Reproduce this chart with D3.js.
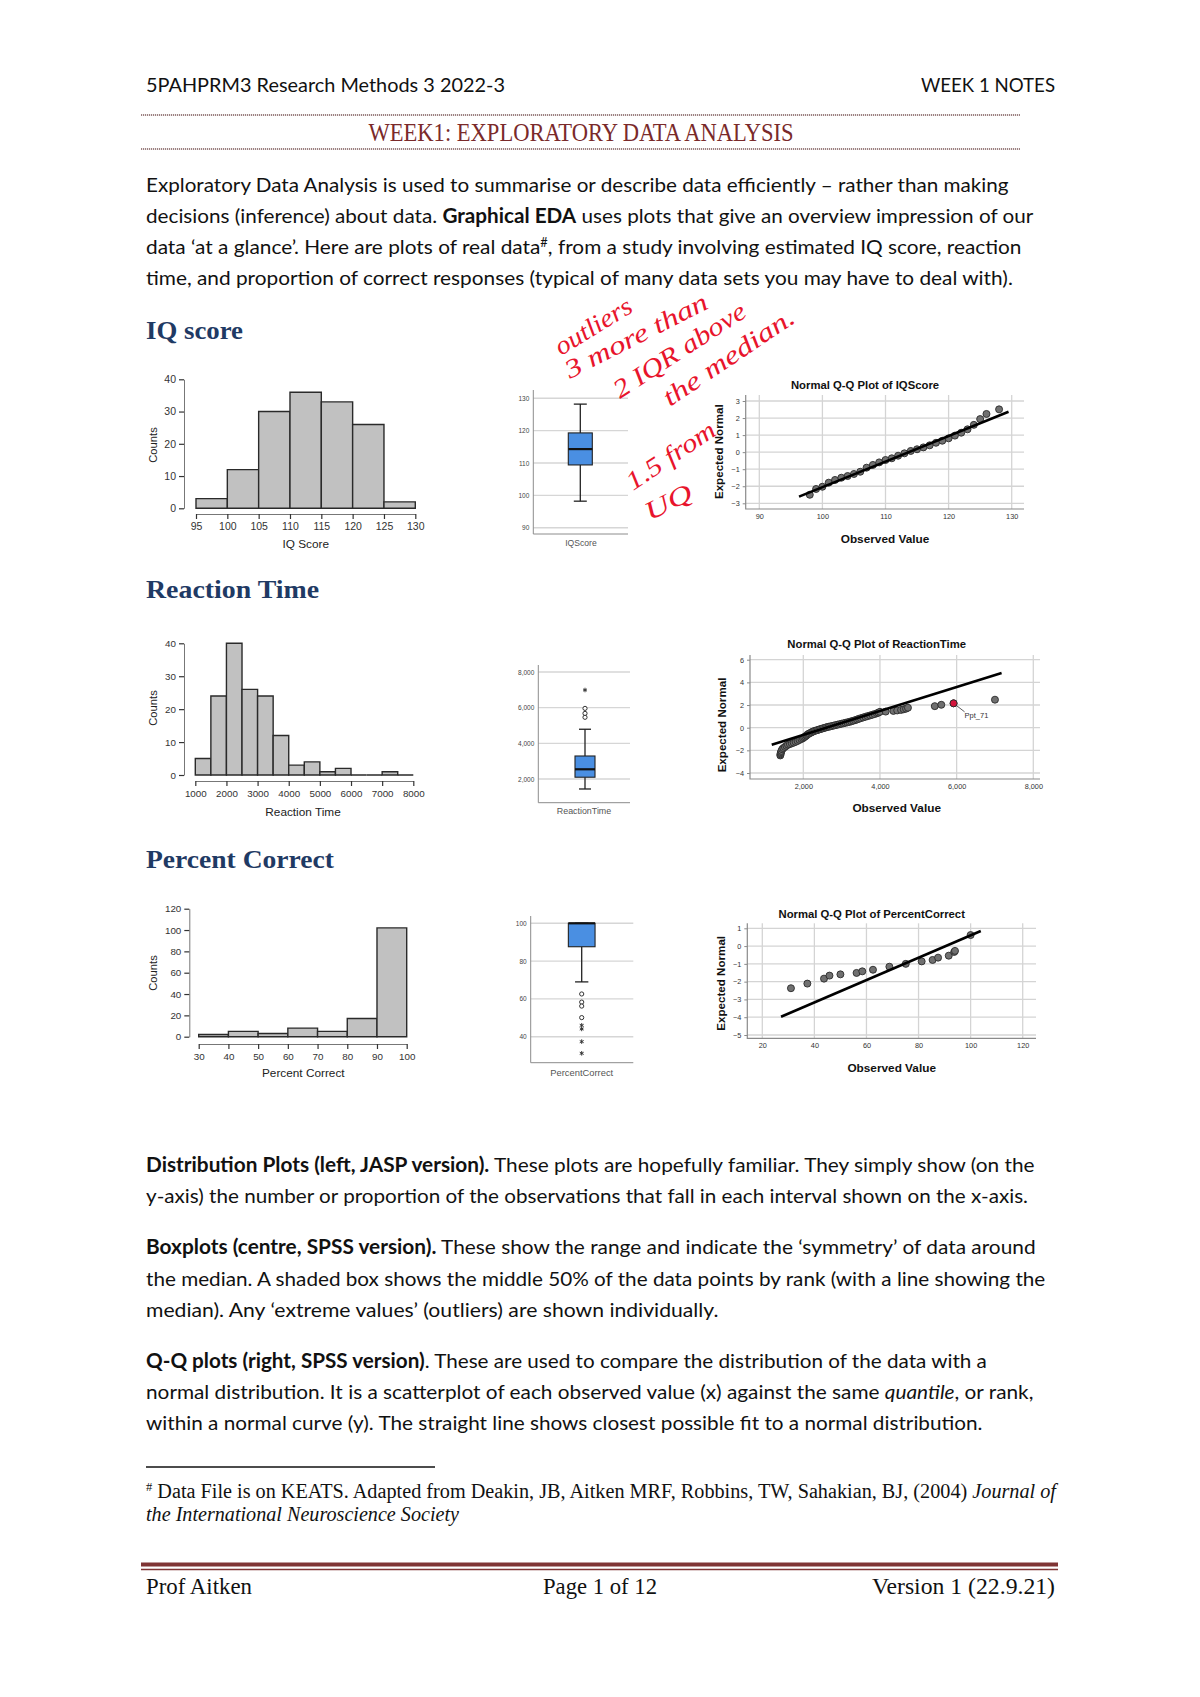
<!DOCTYPE html>
<html><head><meta charset="utf-8">
<script src="https://cdn.jsdelivr.net/npm/d3@7"></script>
<style>
html,body{margin:0;padding:0;background:#fff;}
svg{display:block;}
text{white-space:pre;}
</style></head>
<body>
<svg id="page" width="1200" height="1697"></svg>
<script>
// ---------------- DATA ----------------
// Histograms (JASP)
const iqEdges = [95,100,105,110,115,120,125,130];
const iqCounts = [3,12,30,36,33,26,2];
const iqHistTicks = [95,100,105,110,115,120,125,130];
const iqCountTicks = [0,10,20,30,40];

const rtEdges = [1000,1500,2000,2500,3000,3500,4000,4500,5000,5500,6000,6500,7000,7500,8000];
const rtCounts = [5,24,40,26,24,12,3,4,1,2,0,0,1,0];
const rtHistTicks = [1000,2000,3000,4000,5000,6000,7000,8000];
const rtCountTicks = [0,10,20,30,40];

const pcEdges = [30,40,50,60,70,80,90,100];
const pcCounts = [2,5,3,8,5,17,102];
const pcHistTicks = [30,40,50,60,70,80,90,100];
const pcCountTicks = [0,20,40,60,80,100,120];

// Boxplots (SPSS): [lower whisker, Q1, median, Q3, upper whisker]
const iqBox = [98.2,109.4,114.3,119.3,128.2];
const iqBoxTicks = [90,100,110,120,130];
const rtBox = [1440,2100,2545,3290,4790];
const rtOutliers = [5460,5680,5960];
const rtExtremes = [6990];
const rtBoxTicks = [2000,4000,6000,8000];
const pcBox = [69,87.6,100,100,100];
const pcOutliers = [62.6,58.3,56.2,50.1];
const pcExtremes = [46.0,44.1,37.4,31.2];
const pcBoxTicks = [40,60,80,100];

// Normal Q-Q plots (SPSS)
const iqQQObs = [98,99,100,101,102,103,104,105,106,107,108,109,110,111,112,113,114,115,116,117,118,119,120,121,122,123,124,125,126,128];
const iqQQExp = [-2.5,-2.16,-2.03,-1.79,-1.63,-1.5,-1.4,-1.28,-1.15,-0.91,-0.75,-0.6,-0.46,-0.36,-0.21,-0.07,0.07,0.17,0.28,0.4,0.55,0.67,0.81,0.97,1.14,1.34,1.6,1.94,2.24,2.51];
const iqQQLineObs = [96.3,129.5];
const iqQQLineExp = [-2.61,2.37];
const iqQQXTicks = [90,100,110,120,130];
const iqQQYTicks = [-3,-2,-1,0,1,2,3];

const rtQQObs = [1400,1405,1410,1420,1430,1450,1480,1520,1560,1600,1650,1700,1750,1800,1850,1900,1950,1990,2020,2050,2080,2100,2130,2160,2200,2230,2260,2300,2340,2380,2420,2460,2500,2540,2580,2620,2660,2700,2750,2800,2850,2900,2950,3000,3050,3100,3150,3200,3250,3300,3350,3400,3450,3500,3560,3620,3680,3740,3800,3860,3920,3960,4000,4150,4350,4450,4550,4620,4680,4730,5430,5600,5920,7000];
const rtQQExp = [-2.45,-2.35,-2.25,-2.15,-2.05,-1.9,-1.8,-1.7,-1.6,-1.5,-1.45,-1.38,-1.32,-1.25,-1.17,-1.08,-1.0,-0.93,-0.85,-0.78,-0.7,-0.63,-0.56,-0.5,-0.44,-0.38,-0.33,-0.28,-0.24,-0.2,-0.15,-0.11,-0.07,-0.03,0.01,0.05,0.08,0.11,0.15,0.19,0.23,0.27,0.31,0.35,0.39,0.43,0.47,0.51,0.56,0.61,0.66,0.72,0.78,0.84,0.9,0.96,1.02,1.08,1.14,1.2,1.27,1.33,1.4,1.42,1.48,1.52,1.57,1.62,1.68,1.76,1.9,2.02,2.15,2.47];
const rtQQLabelObs = [5920];
const rtQQLabelExp = [2.15];
const rtQQLabelText = ["Ppt_71"];
const rtQQLineObs = [1176,7173];
const rtQQLineExp = [-1.5,4.82];
const rtQQXTicks = [2000,4000,6000,8000];
const rtQQYTicks = [-4,-2,0,2,4,6];

const pcQQObs = [31.0,37.3,43.7,45.8,50.0,56.2,58.4,62.5,68.8,75.1,81.2,85.4,87.5,91.6,93.7,94.0,100];
const pcQQExp = [-2.37,-2.11,-1.83,-1.66,-1.59,-1.51,-1.42,-1.33,-1.16,-1.0,-0.86,-0.78,-0.65,-0.54,-0.33,-0.27,0.62];
const pcQQLineObs = [27.2,103.9];
const pcQQLineExp = [-3.97,0.85];
const pcQQXTicks = [20,40,60,80,100,120];
const pcQQYTicks = [-5,-4,-3,-2,-1,0,1];

// Texts
const headerLeft = "5PAHPRM3 Research Methods 3 2022-3";
const headerRight = "WEEK 1 NOTES";
const pageTitle = "WEEK1: EXPLORATORY DATA ANALYSIS";
const sectionTitles = ["IQ score","Reaction Time","Percent Correct"];
const introLines = [
  [["Exploratory Data Analysis is used to summarise or describe data efficiently – rather than making"]],
  [["decisions (inference) about data. "],["Graphical EDA","b"],[" uses plots that give an overview impression of our"]],
  [["data ‘at a glance’. Here are plots of real data"],["#","sup"],[", from a study involving estimated IQ score, reaction"]],
  [["time, and proportion of correct responses (typical of many data sets you may have to deal with)."]]
];
const explainLines = [
  [["Distribution Plots (left, JASP version).","b"],[" These plots are hopefully familiar. They simply show (on the"]],
  [["y-axis) the number or proportion of the observations that fall in each interval shown on the x-axis."]],
  [["Boxplots (centre, SPSS version).","b"],[" These show the range and indicate the ‘symmetry’ of data around"]],
  [["the median. A shaded box shows the middle 50% of the data points by rank (with a line showing the"]],
  [["median). Any ‘extreme values’ (outliers) are shown individually."]],
  [["Q-Q plots (right, SPSS version)","b"],[". These are used to compare the distribution of the data with a"]],
  [["normal distribution. It is a scatterplot of each observed value (x) against the same "],["quantile","i"],[", or rank,"]],
  [["within a normal curve (y). The straight line shows closest possible fit to a normal distribution."]]
];
const footnoteLines = [
  [["#","sup"],[" Data File is on KEATS. Adapted from Deakin, JB, Aitken MRF, Robbins, TW, Sahakian, BJ, (2004) "],["Journal of","i"]],
  [["the International Neuroscience Society","i"]]
];
const footerTexts = ["Prof Aitken","Page 1 of 12","Version 1 (22.9.21)"];
const handNotes = ["outliers","3 more than","2 IQR above","the median.","1.5 from","UQ"];

// ---------------- DRAWING ----------------
const svg = d3.select("#page");
svg.append("rect").attr("width",1200).attr("height",1697).attr("fill","#fff");

const BODY = "Lato, 'Open Sans', sans-serif";
const SERIF = "'Liberation Serif', 'DejaVu Serif', serif";
const SANS = "'Liberation Sans', Arial, sans-serif";

function textLine(g, x, y, segs, o) {
  const t = g.append("text").attr("x", x).attr("y", y)
    .attr("font-family", o.family).attr("font-size", o.size)
    .attr("fill", o.fill || "#000").attr("text-anchor", o.anchor || "start");
  if (o.weight) t.attr("font-weight", o.weight);
  if (o.italic) t.attr("font-style", "italic");
  segs.forEach(s => {
    const ts = t.append("tspan").text(s[0]);
    if (s[1] === "b") ts.attr("font-weight", "bold");
    if (s[1] === "i") ts.attr("font-style", "italic");
    if (s[1] === "sup") ts.attr("baseline-shift", "super").attr("font-size", o.size * 0.62);
  });
  if (o.width) t.attr("textLength", o.width).attr("lengthAdjust", "spacingAndGlyphs");
  return t;
}

// Header
const hdr = svg.append("g");
textLine(hdr, 146, 92, [[headerLeft]], {family: BODY, size: 20, width: 359, fill: "#111"});
textLine(hdr, 1055, 92, [[headerRight]], {family: BODY, size: 20, width: 134, anchor: "end", fill: "#111"});
[115, 149].forEach(yy => hdr.append("line").attr("x1", 141).attr("x2", 1020).attr("y1", yy).attr("y2", yy)
  .attr("stroke", "#7d5a5a").attr("stroke-width", 1.5).attr("stroke-dasharray", "1.2,0.8"));
textLine(hdr, 581, 141, [[pageTitle]], {family: SERIF, size: 25, width: 425, anchor: "middle", fill: "#7a2a2a"});

// Intro paragraph
const introW = [862.5, 887.4, 875.5, 866.8];
introLines.forEach((l, i) => textLine(svg, 146, 191.5 + i * 31.3, l, {family: BODY, size: 20, width: introW[i], fill: "#111"}));

// Section headings
const secY = [339, 598, 868], secW = [97, 173, 188];
sectionTitles.forEach((s, i) => textLine(svg, 146, secY[i], [[s]], {family: SERIF, size: 25, weight: "bold", width: secW[i], fill: "#1f3a64"}));

// Explanations
const explY = [1172, 1203.3, 1254, 1285.5, 1316.5, 1368, 1399, 1430];
const explW = [888.5, 882, 889.6, 899.3, 572.5, 840.9, 887.4, 836.5];
explainLines.forEach((l, i) => textLine(svg, 146, explY[i], l, {family: BODY, size: 20, width: explW[i], fill: "#111"}));

// Footnote
svg.append("line").attr("x1", 146).attr("x2", 435).attr("y1", 1467).attr("y2", 1467).attr("stroke", "#111").attr("stroke-width", 1.5);
textLine(svg, 146, 1498, footnoteLines[0], {family: SERIF, size: 20, width: 910, fill: "#111"});
textLine(svg, 146, 1520.5, footnoteLines[1], {family: SERIF, size: 20, width: 313, fill: "#111"});

// Footer
svg.append("line").attr("x1", 141).attr("x2", 1058).attr("y1", 1564.5).attr("y2", 1564.5).attr("stroke", "#7f3434").attr("stroke-width", 4);
svg.append("line").attr("x1", 141).attr("x2", 1058).attr("y1", 1569.5).attr("y2", 1569.5).attr("stroke", "#7f3434").attr("stroke-width", 1.3);
textLine(svg, 146, 1594, [[footerTexts[0]]], {family: SERIF, size: 23, width: 106, fill: "#111"});
textLine(svg, 600, 1594, [[footerTexts[1]]], {family: SERIF, size: 23, width: 114, anchor: "middle", fill: "#111"});
textLine(svg, 1055, 1594, [[footerTexts[2]]], {family: SERIF, size: 23, width: 183, anchor: "end", fill: "#111"});

// ---------- Histograms ----------
function drawHist(c) {
  const g = svg.append("g");
  const x = d3.scaleLinear().domain(c.xDom).range(c.xRange);
  const y = d3.scaleLinear().domain(c.yDom).range(c.yRange);
  g.selectAll("path.bar").data(c.counts).join("path").attr("class", "bar")
    .attr("d", (d, i) => `M${x(c.edges[i])},${y(0)}V${y(d)}H${x(c.edges[i + 1])}V${y(0)}Z`)
    .attr("fill", "#c1c1c1").attr("stroke", "#2a2a2a").attr("stroke-width", 1.4);
  const ax = g.append("g").attr("transform", `translate(0,${c.axisY})`)
    .call(d3.axisBottom(x).tickValues(c.xTicks).tickSize(5).tickPadding(4).tickSizeOuter(0).tickFormat(d3.format("d")));
  const ay = g.append("g").attr("transform", `translate(${c.axisX},0)`)
    .call(d3.axisLeft(y).tickValues(c.yTicks).tickSize(5).tickPadding(3).tickSizeOuter(0).tickFormat(d3.format("d")));
  [ax, ay].forEach(a => {
    a.select(".domain").attr("stroke", "#777").attr("stroke-width", 1);
    a.selectAll(".tick line").attr("stroke", "#333").attr("stroke-width", 1.2);
    a.selectAll(".tick text").attr("font-family", SANS).attr("font-size", c.tickSize).attr("fill", "#333");
  });
  g.append("text").attr("x", c.xLabelPos[0]).attr("y", c.xLabelPos[1]).attr("text-anchor", "middle")
    .attr("font-family", SANS).attr("font-size", 11.8).attr("fill", "#222").text(c.xLabel);
  g.append("text").attr("transform", `translate(${c.yLabelPos[0]},${c.yLabelPos[1]}) rotate(-90)`).attr("text-anchor", "middle")
    .attr("font-family", SANS).attr("font-size", 11.2).attr("fill", "#222").text("Counts");
}
drawHist({edges: iqEdges, counts: iqCounts, xDom: [95, 130], xRange: [196, 415.3], yDom: [0, 40], yRange: [508.3, 379.3],
  xTicks: iqHistTicks, yTicks: iqCountTicks, axisY: 514, axisX: 184, tickSize: 10.5, xLabel: "IQ Score", xLabelPos: [305.7, 548], yLabelPos: [157, 445]});
drawHist({edges: rtEdges, counts: rtCounts, xDom: [1000, 8000], xRange: [195.3, 413.3], yDom: [0, 40], yRange: [775, 643.3],
  xTicks: rtHistTicks, yTicks: rtCountTicks, axisY: 781, axisX: 184, tickSize: 9.8, xLabel: "Reaction Time", xLabelPos: [303, 816], yLabelPos: [157, 708]});
drawHist({edges: pcEdges, counts: pcCounts, xDom: [30, 100], xRange: [198.7, 406.7], yDom: [0, 120], yRange: [1036.7, 908.7],
  xTicks: pcHistTicks, yTicks: pcCountTicks, axisY: 1044, axisX: 189.3, tickSize: 9.8, xLabel: "Percent Correct", xLabelPos: [303.3, 1076.7], yLabelPos: [157, 973]});

// ---------- Boxplots ----------
function drawBox(c) {
  const g = svg.append("g");
  const y = d3.scaleLinear().domain(c.yDom).range(c.yRange);
  g.selectAll("line.grid").data(c.ticks).join("line").attr("class", "grid")
    .attr("x1", c.left).attr("x2", c.right).attr("y1", d => y(d)).attr("y2", d => y(d))
    .attr("stroke", "#d6d6d6").attr("stroke-width", 1.4);
  const ay = g.append("g").attr("transform", `translate(${c.left},0)`)
    .call(d3.axisLeft(y).tickValues(c.ticks).tickSize(0).tickPadding(4).tickFormat(c.fmt));
  ay.select(".domain").remove();
  ay.selectAll(".tick text").attr("font-family", SANS).attr("font-size", 6.5).attr("fill", "#444");
  g.append("path").attr("d", `M${c.left},${c.top}V${c.bottom}H${c.right}`).attr("fill", "none").attr("stroke", "#8c8c8c").attr("stroke-width", 1);
  const s = c.stats, cx = c.cx;
  g.append("line").attr("x1", cx).attr("x2", cx).attr("y1", y(s[0])).attr("y2", y(s[1])).attr("stroke", "#222").attr("stroke-width", 1.3);
  g.append("line").attr("x1", cx).attr("x2", cx).attr("y1", y(s[3])).attr("y2", y(s[4])).attr("stroke", "#222").attr("stroke-width", 1.3);
  [s[0], s[4]].forEach(v => g.append("line").attr("x1", cx - c.capW / 2).attr("x2", cx + c.capW / 2)
    .attr("y1", y(v)).attr("y2", y(v)).attr("stroke", "#222").attr("stroke-width", 1.3));
  g.append("rect").attr("x", cx - c.boxW / 2).attr("width", c.boxW).attr("y", y(s[3])).attr("height", y(s[1]) - y(s[3]))
    .attr("fill", "#4a8fe2").attr("stroke", "#222").attr("stroke-width", 1.1);
  g.append("line").attr("x1", cx - c.boxW / 2).attr("x2", cx + c.boxW / 2).attr("y1", y(s[2])).attr("y2", y(s[2]))
    .attr("stroke", "#111").attr("stroke-width", 2.2);
  g.selectAll("circle.out").data(c.outliers || []).join("circle").attr("class", "out")
    .attr("cx", cx).attr("cy", d => y(d)).attr("r", 2.1).attr("fill", "#fff").attr("stroke", "#333").attr("stroke-width", 1);
  g.selectAll("path.ext").data(c.extremes || []).join("path").attr("class", "ext")
    .attr("transform", d => `translate(${cx},${y(d)})`).attr("d", d3.symbol(d3.symbolAsterisk, 14))
    .attr("fill", "none").attr("stroke", "#333").attr("stroke-width", 1);
  g.append("text").attr("x", c.labelPos[0]).attr("y", c.labelPos[1]).attr("text-anchor", "middle")
    .attr("font-family", SANS).attr("font-size", c.labelSize).attr("fill", "#555").text(c.label);
}
drawBox({stats: iqBox, ticks: iqBoxTicks, yDom: [90, 130], yRange: [527.7, 398.3], left: 533.3, right: 628, top: 390, bottom: 534,
  cx: 580.3, boxW: 24, capW: 13, fmt: d3.format("d"), label: "IQScore", labelPos: [581, 546], labelSize: 8.6});
drawBox({stats: rtBox, ticks: rtBoxTicks, yDom: [2000, 8000], yRange: [779, 672], left: 538.3, right: 630, top: 665, bottom: 802.7,
  cx: 585, boxW: 20, capW: 12, fmt: d3.format(","), outliers: rtOutliers, extremes: rtExtremes, label: "ReactionTime", labelPos: [584, 814], labelSize: 8.9});
drawBox({stats: pcBox, ticks: pcBoxTicks, yDom: [40, 100], yRange: [1036.7, 923.3], left: 530.7, right: 633.3, top: 916, bottom: 1062.7,
  cx: 581.7, boxW: 26.7, capW: 13.3, fmt: d3.format("d"), outliers: pcOutliers, extremes: pcExtremes, label: "PercentCorrect", labelPos: [581.7, 1075.7], labelSize: 9.4});

// ---------- Q-Q plots ----------
function drawQQ(c) {
  const g = svg.append("g");
  const x = d3.scaleLinear().domain(c.xDom).range(c.xRange);
  const y = d3.scaleLinear().domain(c.yDom).range(c.yRange);
  g.selectAll("line.vg").data(c.xTicks).join("line").attr("class", "vg")
    .attr("x1", d => x(d)).attr("x2", d => x(d)).attr("y1", c.top).attr("y2", c.bottom)
    .attr("stroke", "#d4d4d4").attr("stroke-width", 1.3);
  g.selectAll("line.hg").data(c.yTicks).join("line").attr("class", "hg")
    .attr("x1", c.left).attr("x2", c.right).attr("y1", d => y(d)).attr("y2", d => y(d))
    .attr("stroke", "#d4d4d4").attr("stroke-width", 1.3);
  g.append("path").attr("d", `M${c.left},${c.top}V${c.bottom}H${c.right}`).attr("fill", "none").attr("stroke", "#8a8a8a").attr("stroke-width", 1.2);
  const ay = g.append("g").attr("transform", `translate(${c.left},0)`)
    .call(d3.axisLeft(y).tickValues(c.yTicks).tickSize(3).tickPadding(3).tickFormat(d3.format("d")));
  const ax = g.append("g").attr("transform", `translate(0,${c.bottom})`)
    .call(d3.axisBottom(x).tickValues(c.xTicks).tickSize(0).tickPadding(5).tickFormat(c.xFmt));
  [ax, ay].forEach(a => {
    a.select(".domain").remove();
    a.selectAll(".tick line").attr("stroke", "#8a8a8a");
    a.selectAll(".tick text").attr("font-family", SANS).attr("font-size", 7.3).attr("fill", "#333");
  });
  g.selectAll("circle.pt").data(c.obs).join("circle").attr("class", "pt")
    .attr("cx", d => x(d)).attr("cy", (d, i) => y(c.exp[i])).attr("r", 3.5)
    .attr("fill", "#707070").attr("stroke", "#2a2a2a").attr("stroke-width", 0.9);
  const lineGen = d3.line().x(d => x(d[0])).y(d => y(d[1]));
  g.append("path").attr("d", lineGen(c.lineObs.map((v, i) => [v, c.lineExp[i]])))
    .attr("stroke", "#000").attr("stroke-width", 2.6).attr("fill", "none");
  if (c.labObs) {
    c.labObs.forEach((v, i) => {
      const px = x(v), py = y(c.labExp[i]);
      g.append("line").attr("x1", px).attr("y1", py).attr("x2", px + 11).attr("y2", py + 8.5).attr("stroke", "#333").attr("stroke-width", 0.8);
      g.append("circle").attr("cx", px).attr("cy", py).attr("r", 3.5).attr("fill", "#d4143c").attr("stroke", "#2a2a2a").attr("stroke-width", 0.9);
      g.append("text").attr("x", px + 11).attr("y", py + 15).attr("font-family", SANS).attr("font-size", 7.5).attr("fill", "#333").text(c.labText[i]);
    });
  }
  g.append("text").attr("x", c.titlePos[0]).attr("y", c.titlePos[1]).attr("text-anchor", "middle")
    .attr("font-family", SANS).attr("font-weight", "bold").attr("font-size", 11.3).attr("fill", "#111").text(c.title);
  g.append("text").attr("x", c.xLabelPos[0]).attr("y", c.xLabelPos[1]).attr("text-anchor", "middle")
    .attr("font-family", SANS).attr("font-weight", "bold").attr("font-size", 11.8).attr("fill", "#111").text("Observed Value");
  g.append("text").attr("transform", `translate(${c.yLabelPos[0]},${c.yLabelPos[1]}) rotate(-90)`).attr("text-anchor", "middle")
    .attr("font-family", SANS).attr("font-weight", "bold").attr("font-size", 11.6).attr("fill", "#111").text("Expected Normal");
}
drawQQ({obs: iqQQObs, exp: iqQQExp, lineObs: iqQQLineObs, lineExp: iqQQLineExp, xTicks: iqQQXTicks, yTicks: iqQQYTicks,
  xDom: [90, 130], xRange: [759.3, 1011.7], yDom: [-3, 3], yRange: [503.3, 401], left: 745.7, right: 1024, top: 395, bottom: 509,
  xFmt: d3.format("d"), title: "Normal Q-Q Plot of IQScore", titlePos: [865, 389], xLabelPos: [885, 543.3], yLabelPos: [722.5, 451.7]});
drawQQ({obs: rtQQObs, exp: rtQQExp, lineObs: rtQQLineObs, lineExp: rtQQLineExp, xTicks: rtQQXTicks, yTicks: rtQQYTicks,
  xDom: [2000, 8000], xRange: [803.3, 1033.3], yDom: [-4, 6], yRange: [773, 659.7], left: 750, right: 1040, top: 655, bottom: 779,
  xFmt: d3.format(","), labObs: rtQQLabelObs, labExp: rtQQLabelExp, labText: rtQQLabelText,
  title: "Normal Q-Q Plot of ReactionTime", titlePos: [876.7, 648.3], xLabelPos: [896.7, 811.7], yLabelPos: [726, 725]});
drawQQ({obs: pcQQObs, exp: pcQQExp, lineObs: pcQQLineObs, lineExp: pcQQLineExp, xTicks: pcQQXTicks, yTicks: pcQQYTicks,
  xDom: [20, 120], xRange: [762.3, 1022.7], yDom: [-5, 1], yRange: [1035, 928.3], left: 747.3, right: 1036, top: 923.3, bottom: 1038.3,
  xFmt: d3.format("d"), title: "Normal Q-Q Plot of PercentCorrect", titlePos: [871.7, 917.7], xLabelPos: [891.7, 1071.7], yLabelPos: [725, 983.3]});

// ---------- Handwritten annotations ----------
const handPos = [[561, 356, -31.5, 86], [570, 379, -27, 157], [620, 399, -33, 153], [670, 407, -34, 153], [633, 491, -33.7, 102], [650, 521, -27, 50]];
handNotes.forEach((t, i) => {
  const p = handPos[i];
  svg.append("text").attr("transform", `translate(${p[0]},${p[1]}) rotate(${p[2]})`)
    .attr("font-family", SERIF).attr("font-style", "italic").attr("font-size", 26).attr("fill", "#e8142c")
    .attr("textLength", p[3]).attr("lengthAdjust", "spacingAndGlyphs").text(t);
});
</script>
</body></html>
